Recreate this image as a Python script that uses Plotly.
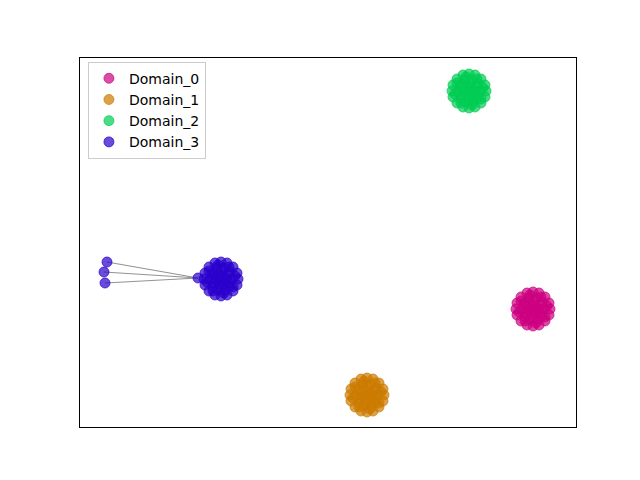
import plotly.graph_objects as go

# Node positions (layout units)
d0_x = [470, 469, 465, 459, 453, 447, 441, 437, 436, 437, 441, 447, 453, 459, 465, 469,
        467, 461, 450, 441, 439, 445, 456, 465,
        464, 462, 456, 449, 444, 442, 445, 450, 457, 462,
        460, 453, 446, 446, 453, 460,
        458, 455, 450, 448, 451, 456,
        453]
d0_y = [118, 124, 130, 134, 135, 134, 130, 124, 118, 112, 106, 102, 101, 102, 106, 112,
        121, 130, 132, 126, 115, 106, 104, 110,
        118, 125, 129, 129, 124, 117, 110, 107, 107, 111,
        122, 126, 122, 114, 110, 114,
        118, 122, 122, 117, 113, 114,
        118]

d1_x = [304, 303, 299, 293, 287, 281, 275, 271, 270, 271, 275, 281, 287, 293, 299, 303,
        301, 295, 284, 275, 273, 279, 290, 299,
        298, 296, 290, 283, 278, 276, 279, 284, 291, 296,
        294, 287, 280, 280, 287, 294,
        292, 289, 284, 282, 285, 290,
        287]
d1_y = [32, 38, 44, 48, 49, 48, 44, 38, 32, 26, 20, 16, 15, 16, 20, 26,
        35, 44, 46, 40, 29, 20, 18, 24,
        32, 39, 43, 43, 38, 31, 24, 21, 21, 25,
        36, 40, 36, 28, 24, 28,
        32, 36, 36, 31, 27, 28,
        32]

d2_x = [406, 405, 401, 395, 389, 383, 377, 373, 372, 373, 377, 383, 389, 395, 401, 405,
        403, 397, 386, 377, 375, 381, 392, 401,
        400, 398, 392, 385, 380, 378, 381, 386, 393, 398,
        396, 389, 382, 382, 389, 396,
        394, 391, 386, 384, 387, 392,
        389]
d2_y = [336, 342, 348, 352, 353, 352, 348, 342, 336, 330, 324, 320, 319, 320, 324, 330,
        339, 348, 350, 344, 333, 324, 322, 328,
        336, 343, 347, 347, 342, 335, 328, 325, 325, 329,
        340, 344, 340, 332, 328, 332,
        336, 340, 340, 335, 331, 332,
        336]

d3_x = [158, 157, 153, 147, 141, 135, 129, 125, 124, 125, 129, 135, 141, 147, 153, 157,
        155, 149, 138, 129, 127, 133, 144, 153,
        152, 150, 144, 137, 132, 130, 133, 138, 145, 150,
        148, 141, 134, 134, 141, 148,
        146, 143, 138, 136, 139, 144,
        141,
        118, 27, 24, 25]
d3_y = [148, 154, 160, 164, 165, 164, 160, 154, 148, 142, 136, 132, 131, 132, 136, 142,
        151, 160, 162, 156, 145, 136, 134, 140,
        148, 155, 159, 159, 154, 147, 140, 137, 137, 141,
        152, 156, 152, 144, 140, 144,
        148, 152, 152, 147, 143, 144,
        148,
        149, 165, 155, 144]

edge_src = [47, 47, 47]
edge_dst = [48, 49, 50]

names = ["Domain_0", "Domain_1", "Domain_2", "Domain_3"]
colors = ["rgba(204,0,128,0.7)", "rgba(204,122,0,0.7)", "rgba(0,204,82,0.7)", "rgba(41,0,204,0.7)"]

fig = go.Figure()

ex, ey = [], []
for s, t in zip(edge_src, edge_dst):
    ex += [d3_x[s], d3_x[t], None]
    ey += [d3_y[s], d3_y[t], None]
fig.add_trace(go.Scatter(x=ex, y=ey, mode="lines", line=dict(color="rgba(128,128,128,0.85)", width=1.2),
                         showlegend=False, hoverinfo="skip"))

for name, xs, ys, c in zip(names, [d0_x, d1_x, d2_x, d3_x], [d0_y, d1_y, d2_y, d3_y], colors):
    fig.add_trace(go.Scatter(x=xs, y=ys, mode="markers", name=name,
                             marker=dict(size=10, color=c, line=dict(color=c, width=1))))

fig.update_xaxes(range=[0, 496], showticklabels=False, ticks="", showgrid=False, zeroline=False,
                 showline=True, linecolor="black", linewidth=1, mirror=True)
fig.update_yaxes(range=[0, 369], showticklabels=False, ticks="", showgrid=False, zeroline=False,
                 showline=True, linecolor="black", linewidth=1, mirror=True)

fig.update_layout(
    width=640, height=480,
    margin=dict(l=72, r=72, t=50, b=61),
    plot_bgcolor="white", paper_bgcolor="white",
    font=dict(family="DejaVu Sans", size=14, color="black"),
    legend=dict(x=0.016, y=0.99, xanchor="left", yanchor="top",
                bgcolor="rgba(255,255,255,0.8)", bordercolor="#cccccc", borderwidth=1,
                tracegroupgap=0, font=dict(size=14)),
)

fig.write_html("out.html")
